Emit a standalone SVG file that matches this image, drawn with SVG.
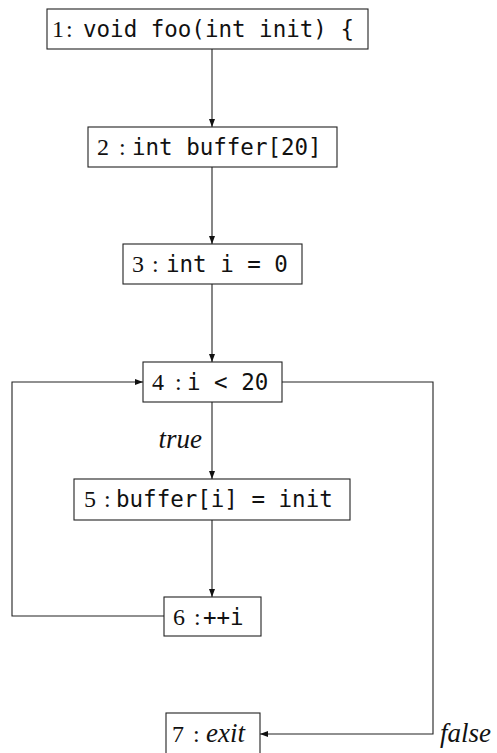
<svg xmlns="http://www.w3.org/2000/svg" width="497" height="753" viewBox="0 0 497 753">
  <style>
    .box { fill: #fff; stroke: #222; stroke-width: 1.1; }
    .edge { fill: none; stroke: #222; stroke-width: 1.1; }
    .num { font-family: "Liberation Serif", "DejaVu Serif", serif; font-size: 24px; fill: #111; }
    .code { font-family: "DejaVu Sans Mono", "Liberation Mono", monospace; font-size: 22.5px; fill: #111; }
    .it { font-family: "Liberation Serif", "DejaVu Serif", serif; font-style: italic; font-size: 27px; fill: #111; }
  </style>
  <defs>
    <marker id="arrow" viewBox="0 0 8 6" refX="8" refY="3" markerWidth="8" markerHeight="6" markerUnits="userSpaceOnUse" orient="auto">
      <path d="M0,0 L8,3 L0,6 Z" fill="#111"/>
    </marker>
  </defs>

  <!-- control-flow edges -->
  <g id="edges">
    <line class="edge" x1="212" y1="49" x2="212" y2="127" marker-end="url(#arrow)"/>
    <line class="edge" x1="212" y1="167" x2="212" y2="244" marker-end="url(#arrow)"/>
    <line class="edge" x1="212" y1="284" x2="212" y2="362" marker-end="url(#arrow)"/>
    <line class="edge" x1="212" y1="402" x2="212" y2="479" marker-end="url(#arrow)"/>
    <line class="edge" x1="212" y1="520" x2="212" y2="597" marker-end="url(#arrow)"/>
    <polyline class="edge" points="164,616 12,616 12,382 143,382" marker-end="url(#arrow)"/>
    <polyline class="edge" points="282,382 433,382 433,734 260,734" marker-end="url(#arrow)"/>
    <text class="it" x="202" y="448" text-anchor="end">true</text>
    <text class="it" x="440" y="742">false</text>
  </g>

  <g id="n1">
    <rect class="box" x="47" y="9" width="321" height="40"/>
    <text class="num" x="52" y="37">1</text>
    <text class="num" x="66" y="37">:</text>
    <text class="code" x="83" y="37">void foo(int init) {</text>
  </g>

  <g id="n2">
    <rect class="box" x="88" y="127" width="249" height="40"/>
    <text class="num" x="97" y="155">2</text>
    <text class="num" x="119" y="155">:</text>
    <text class="code" x="132" y="155">int buffer[20]</text>
  </g>

  <g id="n3">
    <rect class="box" x="123" y="244" width="179" height="40"/>
    <text class="num" x="132" y="272">3</text>
    <text class="num" x="152" y="272">:</text>
    <text class="code" x="166" y="272">int i = 0</text>
  </g>

  <g id="n4">
    <rect class="box" x="143" y="362" width="139" height="40"/>
    <text class="num" x="152" y="390">4</text>
    <text class="num" x="175" y="390">:</text>
    <text class="code" x="187" y="390">i &lt; 20</text>
  </g>

  <g id="n5">
    <rect class="box" x="74" y="479" width="276" height="41"/>
    <text class="num" x="84" y="507">5</text>
    <text class="num" x="104" y="507">:</text>
    <text class="code" x="116" y="507">buffer[i] = init</text>
  </g>

  <g id="n6">
    <rect class="box" x="164" y="597" width="97" height="39"/>
    <text class="num" x="173" y="625">6</text>
    <text class="num" x="194" y="625">:</text>
    <text class="code" x="203" y="625">++i</text>
  </g>

  <g id="n7">
    <rect class="box" x="166" y="713" width="94" height="42"/>
    <text class="num" x="172" y="742">7</text>
    <text class="num" x="193" y="742">:</text>
    <text class="it" x="206" y="742">exit</text>
  </g>
</svg>
